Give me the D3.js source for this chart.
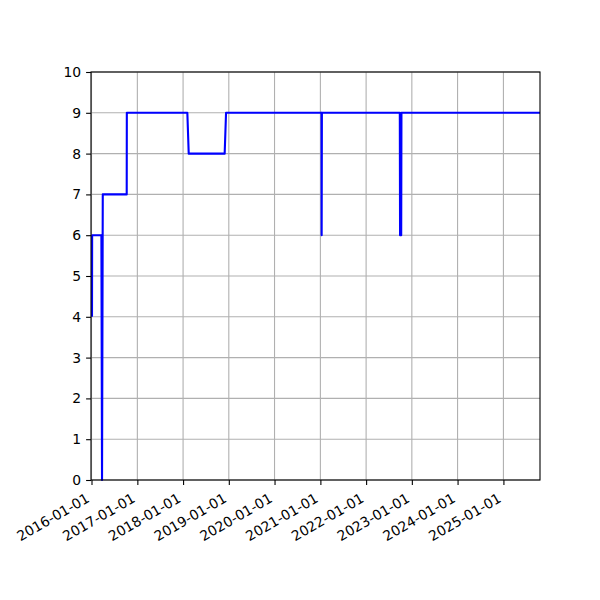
<html>
<head>
<script src="https://d3js.org/d3.v7.min.js"></script>
<style>
  body { margin: 0; background: #fff; }
  text { font-family: "DejaVu Sans", sans-serif; }
</style>
</head>
<body>
<script>
// readings
var dates = ["2016-01-05", "2016-01-06", "2016-03-20", "2016-03-25", "2016-03-31",
             "2016-10-08", "2016-10-09", "2018-02-04", "2018-02-15", "2018-11-29",
             "2018-12-10", "2021-01-10", "2021-01-11", "2021-01-13", "2022-09-27",
             "2022-09-29", "2022-10-08", "2022-10-10", "2025-10-20"];
var values = [4, 6, 6, 0, 7,
              7, 9, 9, 8, 8,
              9, 9, 6, 9, 9,
              6, 6, 9, 9];
var x_range = ["2015-12-28", "2025-10-20"];
var y_ticks = [0, 1, 2, 3, 4, 5, 6, 7, 8, 9, 10];

var parse = d3.timeParse("%Y-%m-%d");
var fmt = d3.timeFormat("%Y-%m-%d");
var data = dates.map(function (d, i) { return { date: parse(d), value: values[i] }; });

// plot area (window.top is reserved, so no "top" here)
var pl = 91, pr = 540, pt = 72, pb = 480;

var svg = d3.select("body").append("svg")
    .attr("width", 600)
    .attr("height", 600);

var x = d3.scaleTime()
    .domain(x_range.map(parse))
    .range([pl, pr]);
var y = d3.scaleLinear()
    .domain([0, 10])
    .range([pb, pt]);

var x_ticks = d3.timeYear.range(parse("2016-01-01"), parse(x_range[1]));

// grid
svg.append("g").selectAll("line").data(x_ticks).enter().append("line")
    .attr("x1", function (d) { return x(d); })
    .attr("x2", function (d) { return x(d); })
    .attr("y1", pt).attr("y2", pb)
    .attr("stroke", "#b0b0b0").attr("stroke-width", 1.1);
svg.append("g").selectAll("line").data(y_ticks).enter().append("line")
    .attr("x1", pl).attr("x2", pr)
    .attr("y1", function (d) { return y(d); })
    .attr("y2", function (d) { return y(d); })
    .attr("stroke", "#b0b0b0").attr("stroke-width", 1.1);

// line
var line = d3.line()
    .x(function (d) { return x(d.date); })
    .y(function (d) { return y(d.value); });
svg.append("path")
    .datum(data)
    .attr("d", line)
    .attr("fill", "none")
    .attr("stroke", "#0000ff")
    .attr("stroke-width", 2.1)
    .attr("stroke-linejoin", "round");

// axes
var xAxis = svg.append("g")
    .attr("transform", "translate(0," + pb + ")")
    .call(d3.axisBottom(x).tickValues(x_ticks).tickFormat(fmt).tickSizeInner(4.9).tickSizeOuter(0));
xAxis.select(".domain").remove();
xAxis.selectAll(".tick line").attr("stroke", "#000").attr("stroke-width", 1.1);
xAxis.selectAll(".tick text")
    .attr("font-size", "13.9px")
    .attr("font-family", "DejaVu Sans")
    .attr("fill", "#000")
    .attr("text-anchor", "end")
    .attr("x", 0).attr("y", 0).attr("dy", "-3.3px")
    .attr("transform", "translate(0,24) rotate(-30)");

var yAxis = svg.append("g")
    .attr("transform", "translate(" + pl + ",0)")
    .call(d3.axisLeft(y).tickValues(y_ticks).tickSizeInner(4.9).tickSizeOuter(0).tickPadding(4.9));
yAxis.select(".domain").remove();
yAxis.selectAll(".tick line").attr("stroke", "#000").attr("stroke-width", 1.1);
yAxis.selectAll(".tick text")
    .attr("font-size", "13.9px")
    .attr("font-family", "DejaVu Sans")
    .attr("fill", "#000");

// frame
svg.append("rect")
    .attr("x", pl).attr("y", pt)
    .attr("width", pr - pl).attr("height", pb - pt)
    .attr("fill", "none").attr("stroke", "#000").attr("stroke-width", 1.1);
</script>
</body>
</html>
